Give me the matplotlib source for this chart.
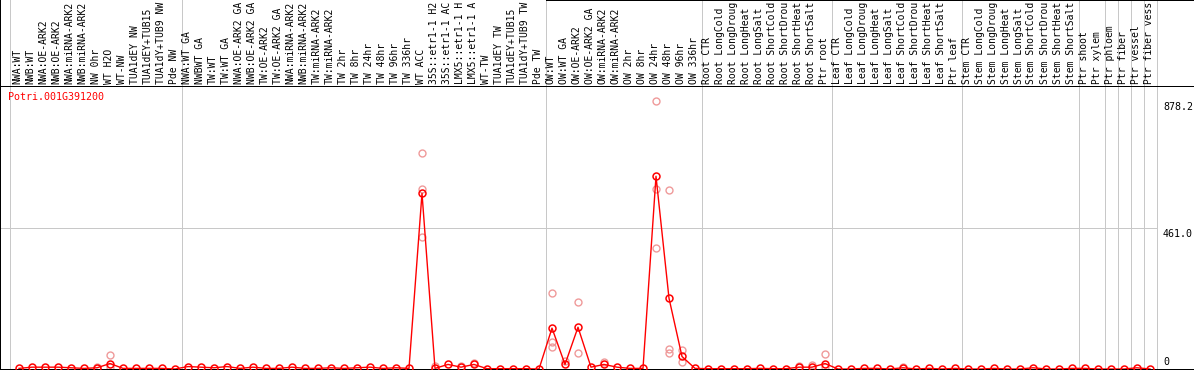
import matplotlib.pyplot as plt
from matplotlib.transforms import offset_copy, blended_transform_factory

# sample names as far as the reference shows them (cut at the top edge)
samples = [
    "NWA:WT", "NWB:WT", "NWA:OE-ARK2", "NWB:OE-ARK2", "NWA:miRNA-ARK2", "NWB:miRNA-ARK2",
    "NW 0hr", "WT H2O", "WT-NW", "TUA1dEY NW", "TUA1dEY+TUB15", "TUA1dY+TUB9 NW", "Pde NW",
    "NWA:WT GA", "NWBWT GA", "TW:WT", "TW:WT GA", "NWA:OE-ARK2 GA", "NWB:OE-ARK2 GA",
    "TW:OE-ARK2", "TW:OE-ARK2 GA", "NWA:miRNA-ARK2", "NWB:miRNA-ARK2", "TW:miRNA-ARK2",
    "TW:miRNA-ARK2", "TW 2hr", "TW 8hr", "TW 24hr", "TW 48hr", "TW 96hr", "TW 336hr",
    "WT ACC", "35S::etr1-1 H2", "35S::etr1-1 AC", "LMX5::etr1-1 H", "LMX5::etr1-1 A",
    "WT-TW", "TUA1dEY TW", "TUA1dEY+TUB15", "TUA1dY+TUB9 TW", "Pde TW",
    "OW:WT", "OW:WT GA", "OW:OE-ARK2", "OW:OE-ARK2 GA", "OW:miRNA-ARK2", "OW:miRNA-ARK2",
    "OW 2hr", "OW 8hr", "OW 24hr", "OW 48hr", "OW 96hr", "OW 336hr",
    "Root CTR", "Root LongCold", "Root LongDroug", "Root LongHeat", "Root LongSalt",
    "Root ShortCold", "Root ShortDrou", "Root ShortHeat", "Root ShortSalt", "Ptr root",
    "Leaf CTR", "Leaf LongCold", "Leaf LongDroug", "Leaf LongHeat", "Leaf LongSalt",
    "Leaf ShortCold", "Leaf ShortDrou", "Leaf ShortHeat", "Leaf ShortSalt", "Ptr leaf",
    "Stem CTR", "Stem LongCold", "Stem LongDroug", "Stem LongHeat", "Stem LongSalt",
    "Stem ShortCold", "Stem ShortDrou", "Stem ShortHeat", "Stem ShortSalt",
    "Ptr shoot", "Ptr xylem", "Ptr phloem", "Ptr fiber", "Ptr vessel", "Ptr fiber vess",
]

expression = [
    2, 6, 6, 6, 4, 2, 4, 18, 2, 2, 2, 2, 0,
    8, 6, 4, 8, 2, 6, 2, 2, 6, 2, 2, 4, 2, 4, 6, 2, 4, 2,
    576, 2, 15, 6, 15, 1, 1, 1, 1, 0,
    134, 15, 137, 6, 15, 6, 2, 2, 632, 232, 41, 2,
    1, 1, 1, 1, 2, 1, 1, 6, 6, 18,
    0, 0, 2, 2, 0, 4, 0, 2, 0, 2,
    0, 0, 2, 0, 0, 4, 0, 0, 2,
    2, 0, 0, 0, 4, 0,
]

# replicate measurements (sample index, value)
rep_index = [6, 7, 7, 31, 31, 31, 32, 34, 35, 41, 41, 41, 42, 43, 43, 45,
             49, 49, 49, 50, 50, 50, 51, 51, 60, 61, 62, 62, 68]
rep_value = [8, 45, 5, 708, 432, 590, 10, 10, 20, 248, 87, 71, 25, 219, 54, 22,
             878.2, 589, 396, 586, 64, 51, 61, 22, 11, 14, 50, 5, 7]

group_starts = [0, 13, 41, 53, 63, 73, 82, 84, 85, 86, 87, 88]

gene_id = "Potri.001G391200"
y_labels = [0, 461.0, 878.2]

W, H = 1194, 370
plot_top, plot_bot = 86, 369
step = 13
x_lo = -19 / step
x_hi = x_lo + W / step
y_max = 928

mono = "DejaVu Sans Mono"
fs = 7.2
grid_gray = "#c8c8c8"
px = 0.72

fig = plt.figure(figsize=(W / 100, H / 100), dpi=100)
ax = fig.add_axes([0, (H - plot_bot) / H, 1, (plot_bot - plot_top) / H])
lab = fig.add_axes([0, (H - plot_top) / H, 1, plot_top / H], sharex=ax)

ax.set_xlim(x_lo, x_hi)
ax.set_ylim(0, y_max)
lab.set_ylim(0, 1)
for a in (ax, lab):
    a.set_xticks([])
    a.set_yticks([])
    for s in a.spines.values():
        s.set_linewidth(px)
        s.set_color("black")
lab.spines["bottom"].set_visible(False)
lab.spines["top"].set_bounds(group_starts[2] - 0.5, x_hi)

seps = [b - 0.5 for b in group_starts[1:]]
seps.insert(0, -0.7)
for s in seps:
    ax.axvline(s, color=grid_gray, lw=px, zorder=0)
    lab.axvline(s, color=grid_gray, lw=px, zorder=0)
ax.hlines(y_labels[1], x_lo, seps[-1], color=grid_gray, lw=px, zorder=0)

# sample names, rotated
lab_tr = offset_copy(lab.transData, fig=fig, x=-1.5, y=2, units="dots")
for i, name in enumerate(samples):
    lab.text(i, 0, name, rotation=90, ha="center", va="bottom", family=mono,
             fontsize=7.0, transform=lab_tr)

x = list(range(len(expression)))
ax.plot(rep_index, rep_value, ls="none", marker="o", ms=5, mfc="none",
        mec="#ef9a9a", mew=1.0, zorder=2)
ax.plot(x, expression, color="red", lw=1.0, marker="o", ms=5, mfc="none",
        mec="red", mew=1.1, zorder=3)

fig.text(8 / W, 1 - 97 / H, gene_id, color="red", family=mono, fontsize=fs,
         ha="left", va="center")

lbl_tr = blended_transform_factory(ax.transAxes, ax.transData)
for v in y_labels:
    if v == 0:
        tr = offset_copy(lbl_tr, fig=fig, y=2, units="dots")
        va = "bottom"
    else:
        tr = offset_copy(lbl_tr, fig=fig, y=-1, units="dots")
        va = "top"
    txt = "0" if v == 0 else f"{v:.1f}"
    ax.text(1163 / W, v, txt, transform=tr, family=mono, fontsize=fs,
            ha="left", va=va)

fig.savefig("out.png", dpi=100)
